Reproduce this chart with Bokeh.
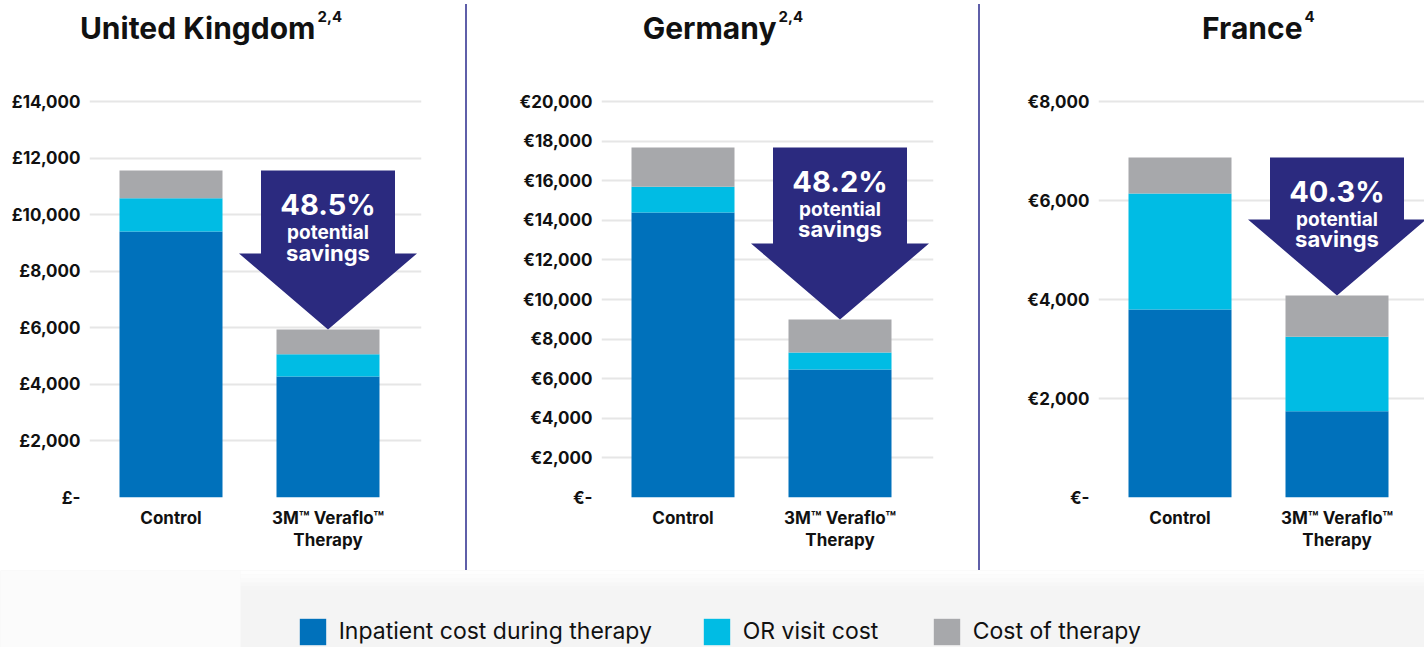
from bokeh.plotting import figure
from bokeh.models import Range1d, FixedTicker, Label, Legend, LegendItem, Div, ColumnDataSource
from bokeh.layouts import row, column
from bokeh.embed import file_html
from bokeh.resources import INLINE

# ---------------- data ----------------
categories = ["Control", "3M\u2122 Veraflo\u2122\nTherapy"]
series_names = ["Inpatient cost during therapy", "OR visit cost", "Cost of therapy"]
series_colors = ["#0071bb", "#00bce4", "#a7a8ab"]

uk_inpatient = [9400, 4280]
uk_or_visit = [1180, 780]
uk_therapy = [980, 880]

de_inpatient = [14400, 6470]
de_or_visit = [1300, 850]
de_therapy = [1980, 1670]

fr_inpatient = [3800, 1740]
fr_or_visit = [2340, 1510]
fr_therapy = [730, 830]

uk_ticks = [0, 2000, 4000, 6000, 8000, 10000, 12000, 14000]
uk_tick_labels = ["£-", "£2,000", "£4,000", "£6,000", "£8,000", "£10,000", "£12,000", "£14,000"]
de_ticks = [0, 2000, 4000, 6000, 8000, 10000, 12000, 14000, 16000, 18000, 20000]
de_tick_labels = ["€-", "€2,000", "€4,000", "€6,000", "€8,000", "€10,000", "€12,000",
                  "€14,000", "€16,000", "€18,000", "€20,000"]
fr_ticks = [0, 2000, 4000, 6000, 8000]
fr_tick_labels = ["€-", "€2,000", "€4,000", "€6,000", "€8,000"]

titles = ["United Kingdom", "Germany", "France"]
title_refs = ["2,4", "2,4", "4"]
savings = ["48.5%", "48.2%", "40.3%"]

# ---------------- layout constants ----------------
TITLE_H = 60
PANEL_H = 510
FRAME_H = 437            # frame spans canvas y 60..497
TOP_TICK_FROM_TOP = 41   # top tick line 41px below frame top
PX_PER_CAT = 157.0
BAR_PX = 103
FONT = "Inter"
ARROW_COLOR = "#2b2a7f"
SEP_COLOR = "#5f5fa9"
TEXT_COLOR = "#111111"


def make_title(title, ref, width, title_right):
    t = figure(width=width, height=TITLE_H, x_range=Range1d(0, width),
               y_range=Range1d(TITLE_H, 0), output_backend="svg", toolbar_location=None,
               min_border=0)
    t.axis.visible = False
    t.grid.visible = False
    t.outline_line_color = None
    t.add_layout(Label(x=title_right, y=27, text=title, text_align="right",
                       text_baseline="alphabetic", text_font=FONT, text_font_style="bold",
                       text_font_size="30px", text_color=TEXT_COLOR))
    t.add_layout(Label(x=title_right + 2, y=16, text=ref, text_align="left",
                       text_baseline="alphabetic", text_font=FONT, text_font_style="bold",
                       text_font_size="15px", text_color=TEXT_COLOR))
    return t


def make_panel(inpatient, or_visit, therapy, ticks, tick_labels, saving,
               width, border_left, border_right):
    frame_w = width - border_left - border_right
    y_end = ticks[-1] * FRAME_H / (FRAME_H - TOP_TICK_FROM_TOP)
    x_start = 1 - 81.5 / PX_PER_CAT
    x_end = x_start + frame_w / PX_PER_CAT
    ux = (x_end - x_start) / frame_w
    uy = y_end / FRAME_H

    p = figure(width=width, height=PANEL_H, x_range=Range1d(x_start, x_end),
               y_range=Range1d(0, y_end), output_backend="svg", toolbar_location=None,
               min_border_left=border_left, min_border_right=border_right,
               min_border_top=0, min_border_bottom=PANEL_H - FRAME_H)
    p.outline_line_color = None

    src = ColumnDataSource(dict(x=[1, 2], inpatient=inpatient, or_visit=or_visit,
                                therapy=therapy))
    p.vbar_stack(["inpatient", "or_visit", "therapy"], x="x", width=BAR_PX / PX_PER_CAT,
                 fill_color=series_colors, line_color=None, source=src)

    # y axis
    p.yaxis.ticker = FixedTicker(ticks=ticks)
    p.yaxis.major_label_overrides = {t: l for t, l in zip(ticks, tick_labels)}
    p.yaxis.axis_line_color = None
    p.yaxis.major_tick_line_color = None
    p.yaxis.minor_tick_line_color = None
    p.yaxis.major_tick_out = 0
    p.yaxis.major_tick_in = 0
    p.yaxis.major_label_standoff = 9
    p.yaxis.major_label_text_font = FONT
    p.yaxis.major_label_text_font_style = "bold"
    p.yaxis.major_label_text_font_size = "17px"
    p.yaxis.major_label_text_color = TEXT_COLOR
    p.ygrid.grid_line_color = "#e6e6e6"
    p.ygrid.grid_line_width = 2
    p.xgrid.visible = False

    # x axis
    p.xaxis.ticker = FixedTicker(ticks=[1, 2])
    p.xaxis.major_label_overrides = {1: categories[0], 2: categories[1]}
    p.xaxis.axis_line_color = None
    p.xaxis.major_tick_line_color = None
    p.xaxis.minor_tick_line_color = None
    p.xaxis.major_tick_out = 0
    p.xaxis.major_tick_in = 0
    p.xaxis.major_label_standoff = 10
    p.xaxis.major_label_text_font = FONT
    p.xaxis.major_label_text_font_style = "bold"
    p.xaxis.major_label_text_font_size = "17px"
    p.xaxis.major_label_text_color = TEXT_COLOR
    p.xaxis.major_label_text_line_height = 1.12

    # savings arrow from control total down to therapy total
    top = inpatient[0] + or_visit[0] + therapy[0]
    tip = inpatient[1] + or_visit[1] + therapy[1]
    cx = 2
    shaft, head, head_h = 67 * ux, 89 * ux, 76 * uy
    ax = [cx - shaft, cx + shaft, cx + shaft, cx + head, cx, cx - head, cx - shaft]
    ay = [top, top, tip + head_h, tip + head_h, tip, tip + head_h, tip + head_h]
    p.patch(ax, ay, fill_color=ARROW_COLOR, line_color=None)

    for txt, dy, size in [(saving, 34, "29px"), ("potential", 62, "19px"), ("savings", 82, "22px")]:
        p.add_layout(Label(x=cx, y=top - dy * uy, text=txt, text_align="center",
                           text_baseline="middle", text_color="white", text_font=FONT,
                           text_font_style="bold", text_font_size=size))
    return p


t_uk = make_title(titles[0], title_refs[0], 465, 315)
t_de = make_title(titles[1], title_refs[1], 511, 776 - 467)
t_fr = make_title(titles[2], title_refs[2], 444, 1302 - 980)

p_uk = make_panel(uk_inpatient, uk_or_visit, uk_therapy, uk_ticks, uk_tick_labels,
                  savings[0], 465, 89, 44)
p_de = make_panel(de_inpatient, de_or_visit, de_therapy, de_ticks, de_tick_labels,
                  savings[1], 511, 134, 45)
p_fr = make_panel(fr_inpatient, fr_or_visit, fr_therapy, fr_ticks, fr_tick_labels,
                  savings[2], 444, 118, 0)


def sep(h, top_margin=0):
    return Div(text="", width=2, height=h, margin=(top_margin, 0, 0, 0),
               styles={"background-color": SEP_COLOR})


# ---------------- legend strip ----------------
leg = figure(width=1424, height=77, x_range=Range1d(0, 1424), y_range=Range1d(0, 77),
             output_backend="svg", toolbar_location=None, min_border=0)
leg.axis.visible = False
leg.grid.visible = False
leg.outline_line_color = None
leg.background_fill_color = "#f4f4f4"
leg.border_fill_color = "#f4f4f4"
# soft photographic background
leg.quad(left=[0], right=[240], bottom=[0], top=[77], fill_color="#fbfbfb", line_color=None)
for i, a in enumerate([0.9, 0.7, 0.5, 0.3, 0.15]):
    leg.quad(left=[240], right=[1424], bottom=[77 - 4 * (i + 1)], top=[77 - 4 * i],
             fill_color="white", fill_alpha=a, line_color=None)

legend_x = [295.7, 699.7, 929.7]
for name, color, lx in zip(series_names, series_colors, legend_x):
    # proxy renderer (zero-height, outside the visible range) used only for the legend swatch
    r = leg.vbar(x=[-50], top=[0], bottom=[0], width=1, fill_color=color, line_color=None)
    lg = Legend(items=[LegendItem(label=name, renderers=[r])], location=(lx, -0.7),
                orientation="horizontal", glyph_width=33, glyph_height=33, label_height=33,
                label_standoff=10, padding=0, margin=0, spacing=0,
                border_line_color=None, background_fill_alpha=0,
                label_text_font=FONT, label_text_font_size="23px",
                label_text_color=TEXT_COLOR)
    leg.add_layout(lg)

layout = column(
    row(t_uk, sep(TITLE_H - 4, 4), t_de, sep(TITLE_H - 4, 4), t_fr, spacing=0),
    row(p_uk, sep(PANEL_H), p_de, sep(PANEL_H), p_fr, spacing=0),
    leg,
    spacing=0,
)

open("out.html", "w").write(file_html(layout, INLINE))
